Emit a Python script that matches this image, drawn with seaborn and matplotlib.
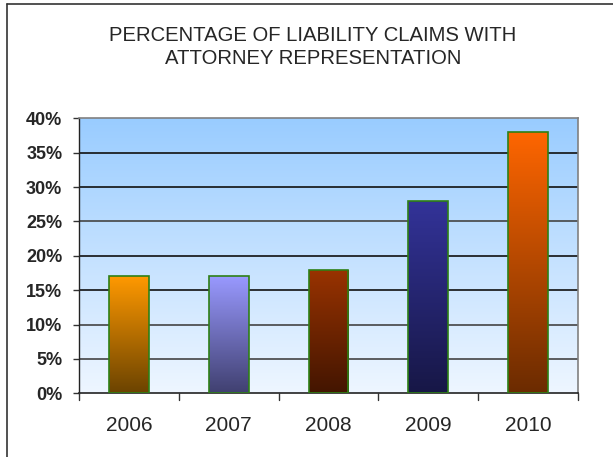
import numpy as np
import pandas as pd
import matplotlib
matplotlib.use("Agg")
import matplotlib.pyplot as plt
import seaborn as sns
from matplotlib.colors import LinearSegmentedColormap
from matplotlib.lines import Line2D

years = ["2006", "2007", "2008", "2009", "2010"]
values = [17, 17, 18, 28, 38]
top_colors = ["#FF9900", "#9999FF", "#993300", "#333399", "#FF6600"]
bottom_colors = ["#6B4300", "#404070", "#431500", "#171746", "#6B2B00"]
yticks = [0, 5, 10, 15, 20, 25, 30, 35, 40]
title = "PERCENTAGE OF LIABILITY CLAIMS WITH\nATTORNEY REPRESENTATION"

sns.set_style("white")
plt.rcParams["font.family"] = ["Liberation Sans", "DejaVu Sans"]

fig = plt.figure(figsize=(6.13, 4.57), dpi=100)
ax = fig.add_axes([79 / 613, (457 - 393.3) / 457, (578 - 79) / 613, (393.3 - 118.3) / 457])

df = pd.DataFrame({"year": years, "value": values})
sns.barplot(data=df, x="year", y="value", ax=ax, width=0.4, color="#FF9900",
            edgecolor="#2E8015", linewidth=1.2, zorder=3)

ax.set_ylim(0, 40)
ax.set_xlim(-0.5, 4.5)

# background gradient
bg = LinearSegmentedColormap.from_list("bg", ["#EEF6FF", "#99CCFF"])
grad = np.linspace(0, 1, 256).reshape(-1, 1)
ax.imshow(grad, aspect="auto", cmap=bg, origin="lower",
          extent=[-0.5, 4.5, 0, 40], zorder=0)

# gradient fills for bars
for patch, tc, bc in zip(ax.patches, top_colors, bottom_colors):
    x0, y0 = patch.get_x(), patch.get_y()
    w, h = patch.get_width(), patch.get_height()
    cmap = LinearSegmentedColormap.from_list("b", [bc, tc])
    im = ax.imshow(grad, aspect="auto", cmap=cmap, origin="lower",
                   extent=[x0, x0 + w, y0, y0 + h], zorder=3)
    im.set_clip_path(patch)
    patch.set_facecolor("none")
    patch.set_zorder(4)

ax.set_xlim(-0.5, 4.5)
ax.set_ylim(0, 40)

# gridlines
for t in yticks[1:-1]:
    ax.axhline(t, color="#111111" if t in (15, 20, 30, 35) else "#444444",
               lw=1.2, zorder=1)

ax.set_yticks(yticks)
ax.set_yticklabels([f"{t}%" for t in yticks], fontsize=13, fontweight="bold")
ax.set_xticks(range(len(years)))
ax.set_xticklabels(years, fontsize=15)
ax.tick_params(axis="x", length=0, pad=16)
ax.tick_params(axis="y", length=4, width=1, direction="out", pad=8, left=True, color="#333333")
ax.set_xlabel("")
ax.set_ylabel("")

# x category boundary ticks
for b in np.arange(-0.5, 5.0, 1.0):
    ax.add_line(Line2D([b, b], [0, -1.0], color="#333333", lw=1,
                       clip_on=False, zorder=5))

for s in ["top", "right"]:
    ax.spines[s].set_visible(True)
    ax.spines[s].set_color("#808080")
    ax.spines[s].set_linewidth(1.2)
ax.spines["left"].set_color("#222222")
ax.spines["bottom"].set_color("#222222")
ax.spines["left"].set_linewidth(1.0)
ax.spines["bottom"].set_linewidth(1.2)

fig.text(313 / 613, 1 - 47 / 457, title, ha="center", va="center",
         fontsize=14.6, linespacing=1.3)

# outer frame (left and top edges)
fig.add_artist(Line2D([7 / 613, 7 / 613], [0, 1 - 4 / 457], transform=fig.transFigure,
                      color="#333333", lw=1.2))
fig.add_artist(Line2D([7 / 613, 1], [1 - 4 / 457, 1 - 4 / 457], transform=fig.transFigure,
                      color="#333333", lw=1.2))

fig.savefig("out.png", dpi=100)
